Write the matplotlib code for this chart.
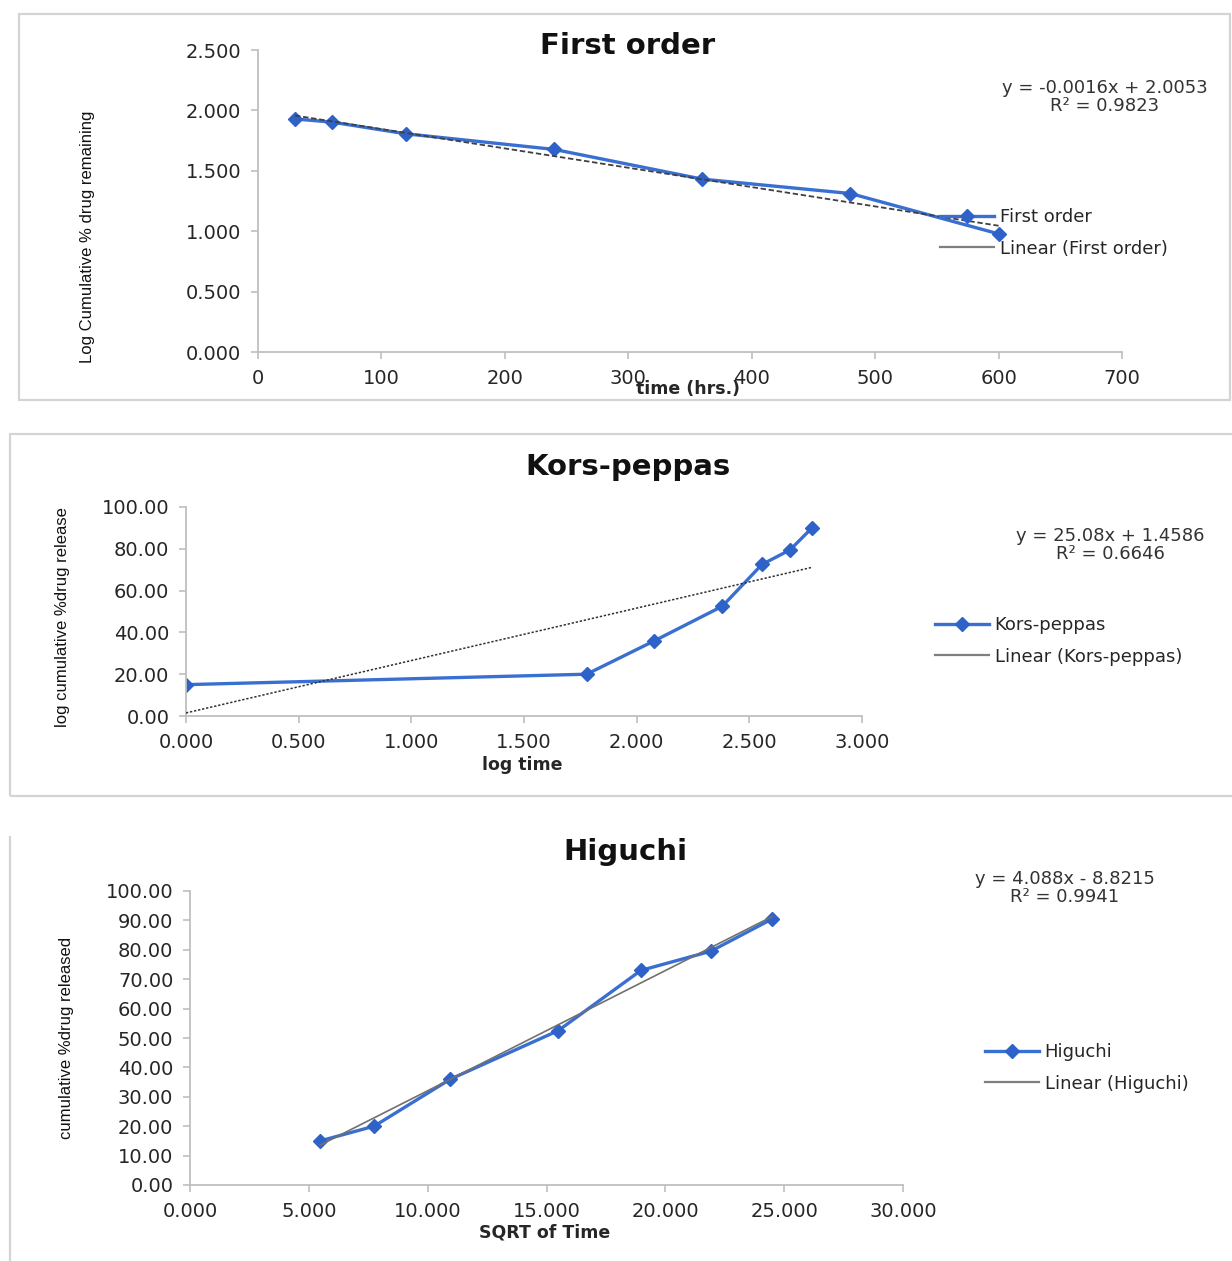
import numpy as np
import matplotlib
matplotlib.use("Agg")
import matplotlib.pyplot as plt
from matplotlib.lines import Line2D
from matplotlib.patches import Rectangle
from matplotlib.ticker import FormatStrFormatter, MultipleLocator

# ---------------- data ----------------
time_hrs = [30, 60, 120, 240, 360, 480, 600]
log_remaining = [1.929, 1.903, 1.806, 1.677, 1.431, 1.312, 0.978]
fo_slope, fo_intercept = -0.0016, 2.0053

log_time = [0.000, 1.778, 2.079, 2.380, 2.556, 2.681, 2.778]
kp_release = [15.0, 20.0, 36.0, 52.5, 72.5, 79.5, 90.0]
kp_slope, kp_intercept = 25.08, 1.4586

sqrt_time = [5.477, 7.746, 10.954, 15.492, 18.974, 21.909, 24.495]
hg_release = [15.0, 20.0, 36.0, 52.5, 73.0, 79.5, 90.5]
hg_slope, hg_intercept = 4.088, -8.8215

titles = ["First order", "Kors-peppas", "Higuchi"]
equations = ["y = -0.0016x + 2.0053\nR\u00b2 = 0.9823",
             "y = 25.08x + 1.4586\nR\u00b2 = 0.6646",
             "y = 4.088x - 8.8215\nR\u00b2 = 0.9941"]
xlabels = ["time (hrs.)", "log time", "SQRT of Time"]
ylabels = ["Log Cumulative % drug remaining",
           "log cumulative %drug release",
           "cumulative %drug released"]

# ---------------- figure ----------------
W, H = 1232, 1261
fig = plt.figure(figsize=(W / 100, H / 100), dpi=100)
fig.patch.set_facecolor("white")

BLUE = "#3A6FD2"
MBLUE = "#2F62C8"
TXT = "#262626"
SPINE = "#bfbfbf"
NARROW = ["Liberation Sans Narrow", "Liberation Sans", "DejaVu Sans"]


def fx(px):
    return px / W


def fy(py):
    return 1 - py / H


def add_axes(l, t, r, b):
    return fig.add_axes([l / W, 1 - b / H, (r - l) / W, (b - t) / H])


def style(ax):
    for s in ["top", "right"]:
        ax.spines[s].set_visible(False)
    for s in ["left", "bottom"]:
        ax.spines[s].set_color(SPINE)
        ax.spines[s].set_linewidth(1.3)
    ax.tick_params(axis="both", colors=SPINE, labelcolor=TXT, labelsize=14,
                   length=5, width=1.2, direction="out", pad=7)
    ax.patch.set_alpha(0)


# panel borders
border = "#d4d4d4"
fig.add_artist(Rectangle((fx(19), fy(400)), fx(1230) - fx(19), fy(14) - fy(400),
                         transform=fig.transFigure, fill=False, ec=border, lw=1.6))
fig.add_artist(Rectangle((fx(10), fy(796)), fx(1240) - fx(10), fy(434) - fy(796),
                         transform=fig.transFigure, fill=False, ec=border, lw=1.6))
fig.add_artist(Line2D([fx(10), fx(10)], [fy(837), fy(1265)], transform=fig.transFigure,
                      color=border, lw=1.6))

# ---------------- panel 1: First order ----------------
ax1 = add_axes(258, 50, 1122, 352)
style(ax1)
ax1.set_xlim(0, 700)
ax1.set_ylim(0, 2.5)
ax1.xaxis.set_major_locator(MultipleLocator(100))
ax1.yaxis.set_major_locator(MultipleLocator(0.5))
ax1.yaxis.set_major_formatter(FormatStrFormatter("%.3f"))
ax1.xaxis.set_major_formatter(FormatStrFormatter("%d"))
xs = np.array([time_hrs[0], time_hrs[-1]])
ax1.plot(xs, fo_slope * xs + fo_intercept, color="#404040", lw=1.3, ls=(0, (3, 1.5)), zorder=3)
ax1.plot(time_hrs, log_remaining, color=BLUE, lw=2.4, marker="D", ms=7.5,
         mfc=MBLUE, mec=MBLUE, zorder=2)

# ---------------- panel 2: Kors-peppas ----------------
ax2 = add_axes(186, 507, 862, 716)
style(ax2)
ax2.set_xlim(0, 3.0)
ax2.set_ylim(0, 100)
ax2.xaxis.set_major_locator(MultipleLocator(0.5))
ax2.yaxis.set_major_locator(MultipleLocator(20))
ax2.xaxis.set_major_formatter(FormatStrFormatter("%.3f"))
ax2.yaxis.set_major_formatter(FormatStrFormatter("%.2f"))
xs = np.array([log_time[0], log_time[-1]])
ax2.plot(xs, kp_slope * xs + kp_intercept, color="#303030", lw=1.1, ls=(0, (1.5, 1.2)), zorder=3)
ax2.plot(log_time, kp_release, color=BLUE, lw=2.4, marker="D", ms=7.5,
         mfc=MBLUE, mec=MBLUE, zorder=2)

# ---------------- panel 3: Higuchi ----------------
ax3 = add_axes(190, 891, 903, 1185)
style(ax3)
ax3.set_xlim(0, 30)
ax3.set_ylim(0, 100)
ax3.xaxis.set_major_locator(MultipleLocator(5))
ax3.yaxis.set_major_locator(MultipleLocator(10))
ax3.xaxis.set_major_formatter(FormatStrFormatter("%.3f"))
ax3.yaxis.set_major_formatter(FormatStrFormatter("%.2f"))
xs = np.array([sqrt_time[0], sqrt_time[-1]])
ax3.plot(xs, hg_slope * xs + hg_intercept, color="#707070", lw=1.2, zorder=3)
ax3.plot(sqrt_time, hg_release, color=BLUE, lw=2.4, marker="D", ms=7.5,
         mfc=MBLUE, mec=MBLUE, zorder=2)

# ---------------- texts ----------------
title_pos = [(628, 46), (628, 467), (625, 852)]
for t, (x, y) in zip(titles, title_pos):
    fig.text(fx(x), fy(y), t, ha="center", va="center", fontsize=21,
             fontweight="bold", color="#111111")

xlabel_pos = [(688, 389), (522, 765), (545, 1233)]
for t, (x, y) in zip(xlabels, xlabel_pos):
    fig.text(fx(x), fy(y), t, ha="center", va="center", fontsize=12.5,
             fontweight="bold", color=TXT)

ylabel_pos = [(88, 237), (62, 617), (66, 1038)]
for t, (x, y) in zip(ylabels, ylabel_pos):
    fig.text(fx(x), fy(y), t, ha="center", va="center", rotation=90,
             fontsize=12, family=NARROW, color="#111111")

eq_pos = [(1105, 97), (1110, 545), (1065, 888)]
for t, (x, y) in zip(equations, eq_pos):
    fig.text(fx(x), fy(y), t, ha="center", va="center", fontsize=13,
             color="#333333", linespacing=1.0, multialignment="center")


# legends
def legend_for(ax, name, lx, cy):
    h1 = Line2D([], [], color=BLUE, lw=2.4, marker="D", ms=7.5, mfc=MBLUE, mec=MBLUE)
    h2 = Line2D([], [], color="#7f7f7f", lw=1.6)
    ax.legend([h1, h2], [name, "Linear (%s)" % name], loc="center left",
              bbox_to_anchor=(fx(lx), fy(cy)), bbox_transform=fig.transFigure,
              frameon=False, fontsize=13, handlelength=3.0, handletextpad=0.3,
              labelspacing=0.75, borderpad=0, borderaxespad=0, numpoints=1,
              labelcolor="#262626")


legend_for(ax1, "First order", 940, 233)
legend_for(ax2, "Kors-peppas", 935, 641)
legend_for(ax3, "Higuchi", 985, 1068)

fig.savefig("out.png", dpi=100, facecolor="white")
